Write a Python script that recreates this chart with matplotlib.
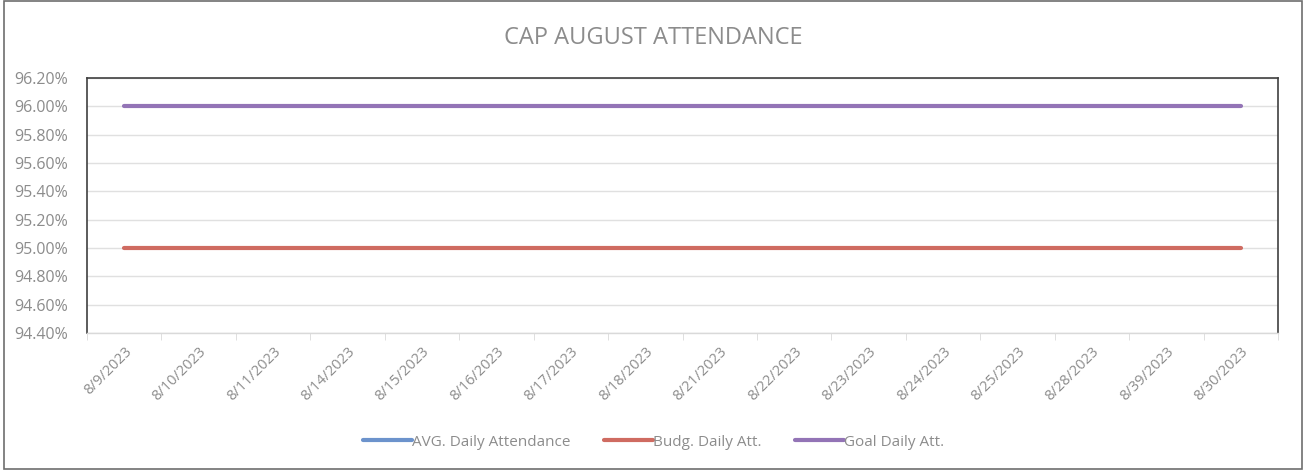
import matplotlib
matplotlib.use("Agg")
import matplotlib.pyplot as plt
import numpy as np
from matplotlib.ticker import FuncFormatter, MultipleLocator
from matplotlib.patches import Rectangle

categories = ["8/9/2023", "8/10/2023", "8/11/2023", "8/14/2023", "8/15/2023", "8/16/2023",
              "8/17/2023", "8/18/2023", "8/21/2023", "8/22/2023", "8/23/2023", "8/24/2023",
              "8/25/2023", "8/28/2023", "8/39/2023", "8/30/2023"]
avg_daily = [np.nan] * 16
budg_daily = [0.95] * 16
goal_daily = [0.96] * 16

plt.rcParams['font.family'] = ['Open Sans', 'DejaVu Sans']
grey = '#8c8c8c'

fig = plt.figure(figsize=(13.12, 4.70), dpi=100)
fig.patches.append(Rectangle((0.003, 0.003), 0.989, 0.994, transform=fig.transFigure,
                             fill=False, edgecolor='#6e6e6e', linewidth=1.2))
ax = fig.add_axes([87/1312, 1-333/470, (1278-87)/1312, (333-78)/470])

x = np.arange(len(categories))
ax.plot(x, avg_daily, color='#6c93cc', lw=3, solid_capstyle='round', label='AVG. Daily Attendance')
ax.plot(x, budg_daily, color='#cf6b61', lw=3, solid_capstyle='round', label='Budg. Daily Att.')
ax.plot(x, goal_daily, color='#9374b6', lw=3, solid_capstyle='round', label='Goal Daily Att.')

ax.set_xlim(-0.5, len(categories) - 0.5)
ax.set_ylim(0.944, 0.962)
ax.yaxis.set_major_locator(MultipleLocator(0.002))
ax.yaxis.set_major_formatter(FuncFormatter(lambda v, p: f"{v*100:.2f}%"))
ax.grid(axis='y', color='#e0e0e0', lw=1)
ax.set_axisbelow(True)

ax.set_xticks(x)
ax.set_xticklabels(categories, rotation=45, ha='right', rotation_mode='anchor', color=grey, fontsize=10.5)
ax.tick_params(axis='x', length=0, pad=8)
ax.set_xticks(np.arange(len(categories) + 1) - 0.5, minor=True)
ax.tick_params(axis='x', which='minor', length=5, color='#d9d9d9')
ax.tick_params(axis='y', length=0, labelcolor=grey, labelsize=11.5, pad=14)

for s in ['left', 'top', 'right']:
    ax.spines[s].set_color('#404040')
    ax.spines[s].set_linewidth(1.2)
ax.spines['bottom'].set_color('#d9d9d9')
ax.spines['bottom'].set_linewidth(1)

fig.text(0.498, 1-38/470, "CAP AUGUST ATTENDANCE", ha='center', va='center', color=grey, fontsize=17)

leg = fig.legend(loc='center', bbox_to_anchor=(0.498, 1-442/470), ncol=3, frameon=False,
                 fontsize=11, handlelength=3.2, handletextpad=0.0, columnspacing=2.2)
for t in leg.get_texts():
    t.set_color(grey)

fig.savefig("out.png", dpi=100)
